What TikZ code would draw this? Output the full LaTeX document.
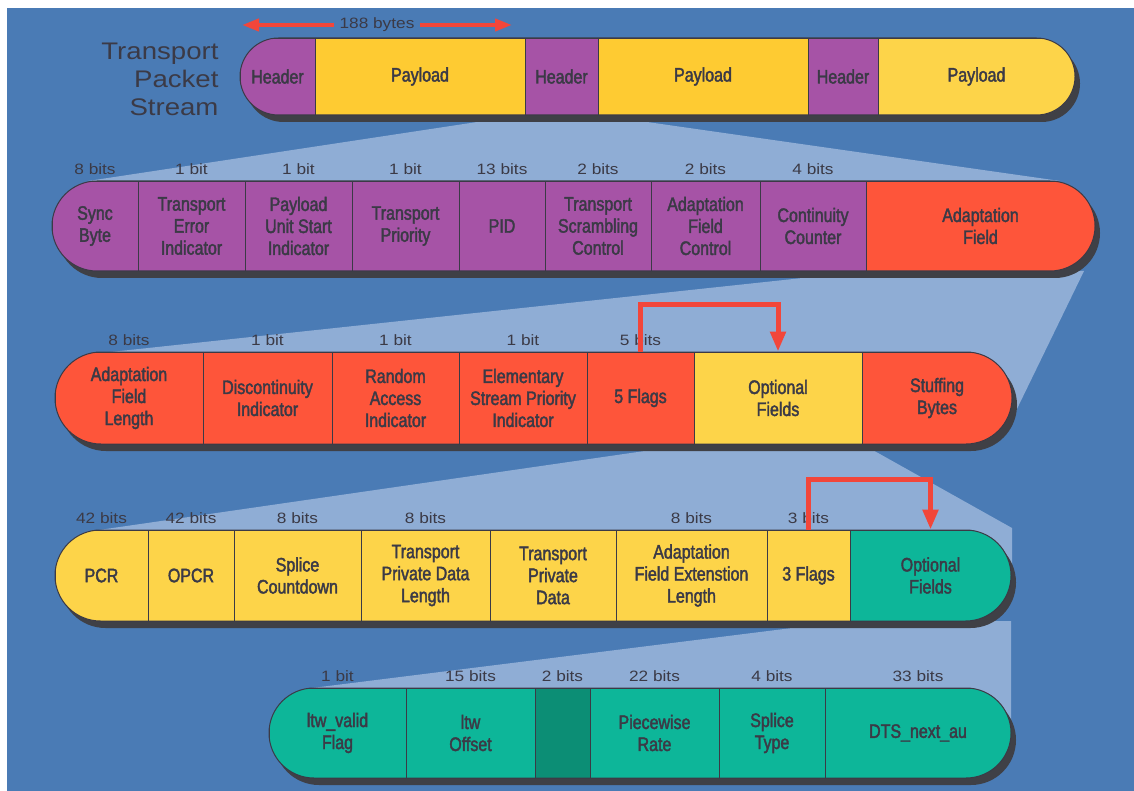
\documentclass[tikz,border=0pt]{standalone}
\usepackage{fontspec}
\setmainfont{Liberation Sans}
\newfontfamily\narrowfont[FakeStretch=0.82,FakeBold=2]{Liberation Sans}
\newfontfamily\widefont[FakeStretch=1.15]{Liberation Sans}
\usetikzlibrary{positioning}
\usetikzlibrary{arrows.meta}
\definecolor{bgblue}{HTML}{4A7BB5}
\definecolor{fanblue}{HTML}{8FADD5}
\definecolor{tspurple}{HTML}{A653A6}
\definecolor{tsyellow}{HTML}{FECB32}
\definecolor{tslight}{HTML}{FDD449}
\definecolor{tsred}{HTML}{FE553A}
\definecolor{tsteal}{HTML}{0DB699}
\definecolor{tsdark}{HTML}{0C8E75}
\definecolor{shadowgrey}{HTML}{3F4046}
\definecolor{inkgrey}{HTML}{3B3A46}
\definecolor{flagred}{HTML}{F2463A}
\tikzset{>={Triangle[length=20pt,width=15pt]}}
\tikzset{field/.style={draw=inkgrey, line width=0.8pt, inner sep=0pt, align=center,
    text=inkgrey, font=\narrowfont\fontsize{19.5}{22}\selectfont}}
\tikzset{bits/.style={inner sep=1pt, text=inkgrey, font=\widefont\fontsize{15}{17}\selectfont}}
\tikzset{pill/.style={draw=inkgrey, line width=1pt, rounded corners=#1}}
\tikzset{drop/.style={fill=shadowgrey, rounded corners=#1}}
\tikzset{flagline/.style={draw=flagred, line width=5pt, ->}}
\tikzset{sizeline/.style={draw=flagred, line width=4pt, -{Triangle[length=17pt,width=12pt]}}}

\begin{document}
\begin{tikzpicture}[x=1pt, y=-1pt]
\useasboundingbox (0,0) rectangle (1134,791);
\fill[bgblue] (7,8) rectangle (1134,791);

% fans from one field to the row that spells it out
\fill[fanblue] (510,117) -- (612,117) -- (1060,181) -- (88,181) -- cycle;
\fill[fanblue] (868,271) -- (1084,271) -- (1014,415) -- (92,354) -- cycle;
\fill[fanblue] (693,444) -- (862,444) -- (1012,528) -- (1012,575) -- (92,531) -- cycle;
\fill[fanblue] (848,621) -- (1011,621) -- (1011,733) -- (312,688) -- cycle;

% transport packet stream
\fill[drop=38.5pt] (245,45) rectangle (1080,122);
\begin{scope}
\clip[rounded corners=38.5pt] (240,38) rectangle (1075,115);
\foreach \n/\xa/\xb/\col/\txt in {h1/240/315/tspurple/Header, p1/315/525/tsyellow/Payload,
    h2/525/598/tspurple/Header, p2/598/808/tsyellow/Payload,
    h3/808/878/tspurple/Header, p3/878/1075/tslight/Payload}
  \node[field, fill=\col, minimum width={(\xb-\xa)*1pt}, minimum height=77pt]
    (\n) at ({(\xa+\xb)/2},76.5) {\txt};
\end{scope}
\draw[pill=38.5pt] (240,38) rectangle (1075,115);

% packet header
\fill[drop=45pt] (57,188) rectangle (1100,278);
\begin{scope}
\clip[rounded corners=45pt] (52,181) rectangle (1095,271);
\foreach \n/\xa/\xb/\col/\txt in {sync/52/138/tspurple/{Sync\\Byte},
    tei/138/245/tspurple/{Transport\\Error\\Indicator},
    pusi/245/352/tspurple/{Payload\\Unit Start\\Indicator},
    prio/352/459/tspurple/{Transport\\Priority},
    pid/459/545/tspurple/PID,
    tsc/545/651/tspurple/{Transport\\Scrambling\\Control},
    afc/651/760/tspurple/{Adaptation\\Field\\Control},
    cc/760/866/tspurple/{Continuity\\Counter},
    af/866/1095/tsred/{Adaptation\\Field}}
  \node[field, fill=\col, minimum width={(\xb-\xa)*1pt}, minimum height=90pt]
    (\n) at ({(\xa+\xb)/2},226) {\txt};
\end{scope}
\draw[pill=45pt] (52,181) rectangle (1095,271);

% adaptation field
\fill[drop=46pt] (60,359) rectangle (1017,451);
\begin{scope}
\clip[rounded corners=46pt] (55,352) rectangle (1012,444);
\foreach \n/\xa/\xb/\col/\txt in {afl/55/203/tsred/{Adaptation\\Field\\Length},
    disc/203/332/tsred/{Discontinuity\\Indicator},
    rai/332/459/tsred/{Random\\Access\\Indicator},
    espi/459/587/tsred/{Elementary\\Stream Priority\\Indicator},
    flagsA/587/694/tsred/5 Flags,
    optA/694/862/tslight/{Optional\\Fields},
    stuff/862/1012/tsred/{Stuffing\\Bytes}}
  \node[field, fill=\col, minimum width={(\xb-\xa)*1pt}, minimum height=92pt]
    (\n) at ({(\xa+\xb)/2},398) {\txt};
\end{scope}
\draw[pill=46pt] (55,352) rectangle (1012,444);

% optional fields
\fill[drop=45.5pt] (60,537) rectangle (1016,628);
\begin{scope}
\clip[rounded corners=45.5pt] (55,530) rectangle (1011,621);
\foreach \n/\xa/\xb/\col/\txt in {pcr/55/148/tslight/PCR,
    opcr/148/234/tslight/OPCR,
    splice/234/361/tslight/{Splice\\Countdown},
    tpdl/361/490/tslight/{Transport\\Private Data\\Length},
    tpd/490/616/tslight/{Transport\\Private\\Data},
    afel/616/767/tslight/{Adaptation\\Field Extenstion\\Length},
    flagsB/767/850/tslight/3 Flags,
    optB/850/1011/tsteal/{Optional\\Fields}}
  \node[field, fill=\col, minimum width={(\xb-\xa)*1pt}, minimum height=91pt]
    (\n) at ({(\xa+\xb)/2},575.5) {\txt};
\end{scope}
\draw[pill=45.5pt] (55,530) rectangle (1011,621);

% extension fields
\fill[drop=45pt] (274,695) rectangle (1016,785);
\begin{scope}
\clip[rounded corners=45pt] (269,688) rectangle (1011,778);
\foreach \n/\xa/\xb/\col/\txt in {ltwf/269/406/tsteal/{ltw\_valid\\Flag},
    ltwo/406/535/tsteal/{ltw\\Offset},
    resv/535/590/tsdark/{},
    rate/590/719/tsteal/{Piecewise\\Rate},
    stype/719/825/tsteal/{Splice\\Type},
    dts/825/1011/tsteal/DTS\_next\_au}
  \node[field, fill=\col, minimum width={(\xb-\xa)*1pt}, minimum height=90pt]
    (\n) at ({(\xa+\xb)/2},733) {\txt};
\end{scope}
\draw[pill=45pt] (269,688) rectangle (1011,778);

% field sizes
\foreach \n/\txt in {sync/8 bits, tei/1 bit, pusi/1 bit, prio/1 bit, pid/13 bits,
    tsc/2 bits, afc/2 bits, cc/4 bits,
    afl/8 bits, disc/1 bit, rai/1 bit, espi/1 bit, flagsA/5 bits,
    pcr/42 bits, opcr/42 bits, splice/8 bits, tpdl/8 bits, afel/8 bits, flagsB/3 bits,
    ltwf/1 bit, ltwo/15 bits, resv/2 bits, rate/22 bits, stype/4 bits, dts/33 bits}
  \node[bits, above=4.5pt of \n] (\n-b) {\txt};

% flags switch the optional fields on
\draw[flagline] (flagsA.north) -- ++(0,-47) -| (optA.north);
\draw[flagline] (flagsB.north) -- ++(0,-50) -| (optB.north);

% packet length
\node[bits, inner sep=5pt] (len) at (377,25) {188 bytes};
\coordinate (lenl) at (242,25);
\coordinate (lenr) at (512,25);
\draw[sizeline] (len.west) -- (lenl);
\draw[sizeline] (len.east) -- (lenr);

\node[anchor=east, align=right, text=inkgrey, font=\widefont\fontsize{24}{28}\selectfont]
  (title) at (222,79) {Transport\\Packet\\Stream};
\end{tikzpicture}
\end{document}
